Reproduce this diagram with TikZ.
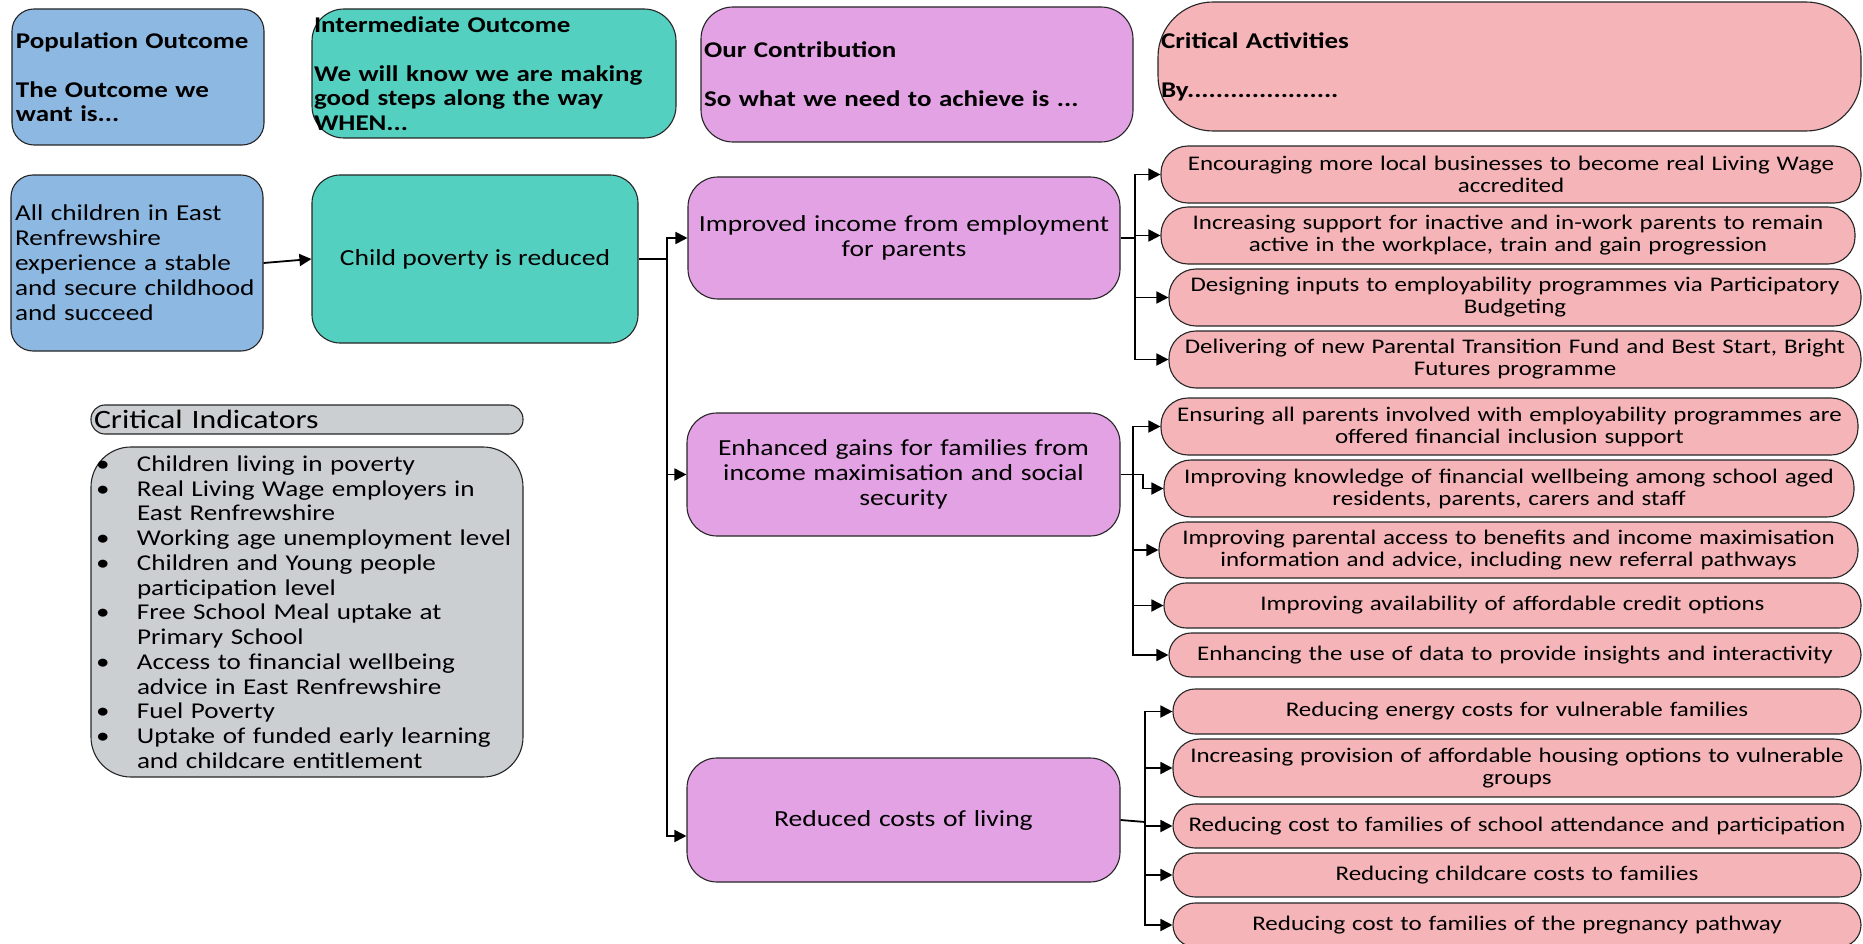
\documentclass[tikz,border=0pt]{standalone}
\usepackage{fontspec}
\setmainfont{Carlito}[FakeStretch=1.2]
\usetikzlibrary{arrows.meta}
\definecolor{cblue}{RGB}{141,184,226}
\definecolor{cteal}{RGB}{84,208,192}
\definecolor{cviolet}{RGB}{226,162,228}
\definecolor{cpink}{RGB}{244,180,184}
\definecolor{cgray}{RGB}{204,207,210}
\newcommand{\bul}{\makebox[44pt][l]{\hspace*{3pt}\textbullet}}
\newcommand{\ind}{\hspace*{44pt}}
\begin{document}
\begin{tikzpicture}[x=1pt,y=-1pt,
  base/.style={draw=black!85,line width=1.1pt,inner sep=4pt},
  hdr/.style={base,align=left,font=\fontsize{22.5}{24.5}\selectfont\bfseries},
  mid/.style={base,align=center,font=\fontsize{23}{25}\selectfont},
  act/.style={base,fill=cpink,rounded corners=27pt,align=center,text width=680pt,font=\fontsize{20.8}{22}\selectfont},
  arr/.style={line width=1.8pt,-{Triangle[length=12pt,width=12pt]}},
  ln/.style={line width=1.8pt}
]
\useasboundingbox (0,0) rectangle (1863,944);
\fill[white] (0,0) rectangle (1863,944);

% header row
\node[hdr,fill=cblue,rounded corners=22pt,minimum width=252pt,minimum height=136pt,text width=244pt] (popH) at (138,77)
 {Population Outcome\\\mbox{}\\The Outcome we\\want is...};
\node[hdr,fill=cteal,rounded corners=32pt,minimum width=364pt,minimum height=129pt,text width=360pt,inner sep=2pt] (intH) at (494,73.5)
 {Intermediate Outcome\\\mbox{}\\We will know we are making\\good steps along the way\\WHEN...};
\node[hdr,fill=cviolet,rounded corners=32pt,minimum width=432pt,minimum height=135pt,text width=426pt,inner sep=3pt] (contH) at (917,74.5)
 {Our Contribution\\\mbox{}\\So what we need to achieve is ...};
\node[hdr,fill=cpink,rounded corners=55pt,minimum width=703pt,minimum height=129pt,text width=697pt,inner sep=3pt] (actH) at (1509.5,66.5)
 {Critical Activities\\\mbox{}\\By.....................};

% population outcome
\node[base,fill=cblue,rounded corners=22pt,minimum width=252pt,minimum height=176pt,text width=244pt,align=left,font=\fontsize{22.7}{25}\selectfont] (allC) at (137,263)
 {All children in East\\Renfrewshire\\experience a stable\\and secure childhood\\and succeed};
\node[mid,fill=cteal,rounded corners=28pt,minimum width=326pt,minimum height=168pt] (childP) at (475,259) {Child poverty is reduced};

% contributions
\node[mid,fill=cviolet,rounded corners=30pt,minimum width=432pt,minimum height=122pt,text width=424pt] (inc) at (904,238)
 {Improved income from employment\\for parents};
\node[mid,fill=cviolet,rounded corners=30pt,minimum width=433pt,minimum height=123pt,text width=424pt] (enh) at (903.5,474.5)
 {Enhanced gains for families from\\income maximisation and social\\security};
\node[mid,fill=cviolet,rounded corners=30pt,minimum width=433pt,minimum height=124pt,text width=424pt] (red) at (903.5,820)
 {Reduced costs of living};

% critical indicators
\node[base,fill=cgray,rounded corners=14pt,minimum width=432pt,minimum height=29pt,text width=426pt,align=left,inner sep=1pt,font=\fontsize{26.5}{26}\selectfont] (ciH) at (307,419.5) {Critical Indicators};
\node[base,fill=cgray,rounded corners=40pt,minimum width=432pt,minimum height=330pt,text width=428pt,align=left,inner sep=2pt,font=\fontsize{22.6}{24.75}\selectfont] (ciL) at (307,612)
 {\bul Children living in poverty\\
  \bul Real Living Wage employers in\\
  \ind East Renfrewshire\\
  \bul Working age unemployment level\\
  \bul Children and Young people\\
  \ind participation level\\
  \bul Free School Meal uptake at\\
  \ind Primary School\\
  \bul Access to financial wellbeing\\
  \ind advice in East Renfrewshire\\
  \bul Fuel Poverty\\
  \bul Uptake of funded early learning\\
  \ind and childcare entitlement};

% activities
\node[act,minimum width=700pt,minimum height=57pt] (a1) at (1511,174.5) {Encouraging more local businesses to become real Living Wage\\accredited};
\node[act,minimum width=694pt,minimum height=57pt] (a2) at (1508,235.5) {Increasing support for inactive and in-work parents to remain\\active in the workplace, train and gain progression};
\node[act,minimum width=692pt,minimum height=57pt] (a3) at (1515,297.5) {Designing inputs to employability programmes via Participatory\\Budgeting};
\node[act,minimum width=692pt,minimum height=57pt] (a4) at (1515,359.5) {Delivering of new Parental Transition Fund and Best Start, Bright\\Futures programme};
\node[act,minimum width=697pt,minimum height=57pt] (b1) at (1509.5,426.5) {Ensuring all parents involved with employability programmes are\\offered financial inclusion support};
\node[act,minimum width=690pt,minimum height=57pt] (b2) at (1509,488.5) {Improving knowledge of financial wellbeing among school aged\\residents, parents, carers and staff};
\node[act,minimum width=699pt,minimum height=56pt] (b3) at (1508.5,550) {Improving parental access to benefits and income maximisation\\information and advice, including new referral pathways};
\node[act,minimum width=697pt,minimum height=45pt,rounded corners=22pt] (b4) at (1512.5,605.5) {Improving availability of affordable credit options};
\node[act,minimum width=692pt,minimum height=44pt,rounded corners=22pt] (b5) at (1515,655) {Enhancing the use of data to provide insights and interactivity};
\node[act,minimum width=688pt,minimum height=45pt,rounded corners=22pt] (c1) at (1517,711.5) {Reducing energy costs for vulnerable families};
\node[act,minimum width=688pt,minimum height=58pt] (c2) at (1517,768) {Increasing provision of affordable housing options to vulnerable\\groups};
\node[act,minimum width=688pt,minimum height=44pt,rounded corners=22pt] (c3) at (1517,826) {Reducing cost to families of school attendance and participation};
\node[act,minimum width=688pt,minimum height=44pt,rounded corners=22pt] (c4) at (1517,875) {Reducing childcare costs to families};
\node[act,minimum width=688pt,minimum height=44pt,rounded corners=22pt] (c5) at (1517,925) {Reducing cost to families of the pregnancy pathway};

% connectors
\draw[arr] (allC.east) -- (childP.west);
\coordinate (t0) at (667,259);
\draw[ln] (childP.east) -- (t0);
\draw[arr] (t0) |- (inc.west);
\draw[arr] (t0) |- (enh.west);
\draw[arr] (t0) |- ([yshift=-16pt]red.west);

\coordinate (t1) at (1135,238);
\draw[ln] (inc.east) -- (t1);
\foreach \n in {a1,a2,a3,a4} \draw[arr] (t1) |- (\n.west);

\coordinate (t2) at (1133,474.5);
\draw[ln] (enh.east) -- (t2);
\foreach \n in {b1,b3,b4,b5} \draw[arr] (t2) |- (\n.west);
\draw[arr] (t2) -- (1143,474.5) |- (b2.west);

\coordinate (t3) at (1145,822);
\draw[ln] (red.east) -- (t3);
\foreach \n in {c1,c2,c3,c4,c5} \draw[arr] (t3) |- (\n.west);
\end{tikzpicture}
\end{document}
